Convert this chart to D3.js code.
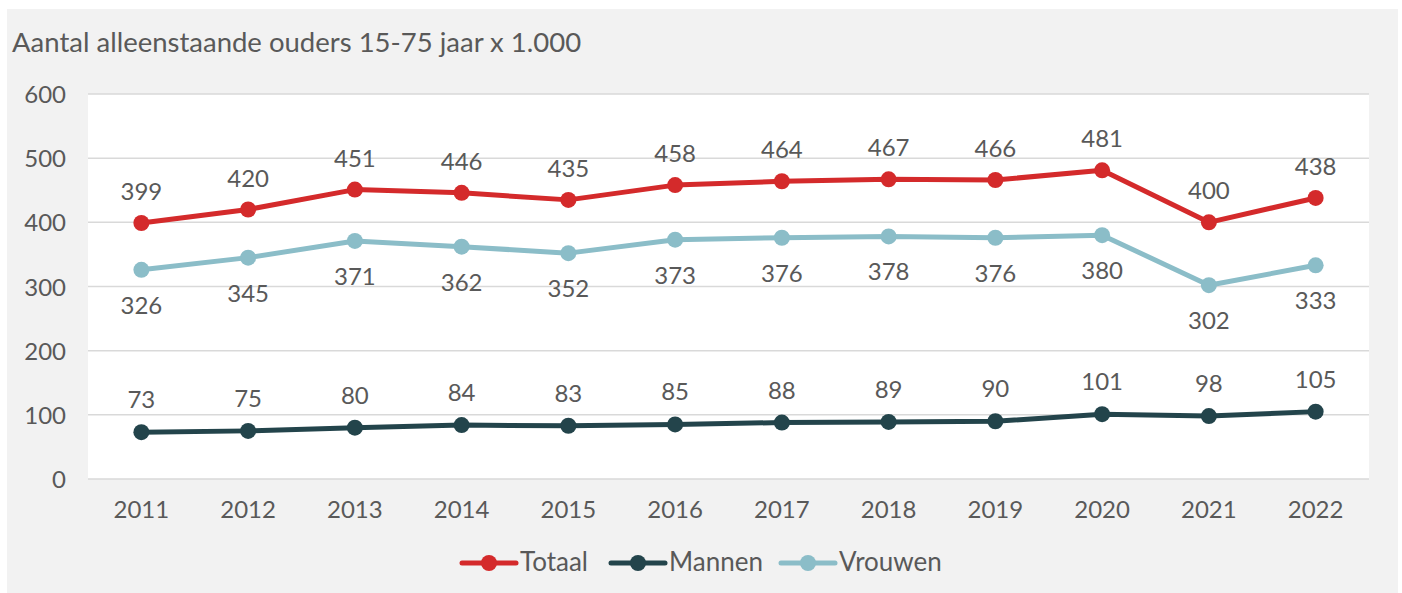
<!DOCTYPE html>
<html>
<meta charset="UTF-8">
<style>
body { margin: 0; background: #fff; }
text { font-family: Lato, "Noto Sans", sans-serif; fill: #595959; }
</style>
<svg width="1402" height="593"></svg>
<script src="https://d3js.org/d3.v7.min.js"></script>
<script>
// data
var years = ["2011", "2012", "2013", "2014", "2015", "2016", "2017", "2018", "2019", "2020", "2021", "2022"];
var totaal = [399, 420, 451, 446, 435, 458, 464, 467, 466, 481, 400, 438];
var mannen = [73, 75, 80, 84, 83, 85, 88, 89, 90, 101, 98, 105];
var vrouwen = [326, 345, 371, 362, 352, 373, 376, 378, 376, 380, 302, 333];
var yTicks = [0, 100, 200, 300, 400, 500, 600];

var series = [
	{ name: "Totaal", values: totaal, color: "#d42a2b", dy: -23 },
	{ name: "Mannen", values: mannen, color: "#23444b", dy: -24 },
	{ name: "Vrouwen", values: vrouwen, color: "#8bbdc8", dy: 44 }
];

var svg = d3.select("svg");

// background panel
svg.append("rect")
	.attr("x", 7).attr("y", 9)
	.attr("width", 1391).attr("height", 584)
	.attr("fill", "#f2f2f2");

var x = d3.scalePoint().domain(years).range([88, 1369]).padding(0.5);
var y = d3.scaleLinear().domain([0, 600]).range([479, 94]);

// plot area
svg.append("rect")
	.attr("x", 88).attr("y", y(600))
	.attr("width", 1369 - 88).attr("height", y(0) - y(600))
	.attr("fill", "#fff");

// gridlines
svg.append("g").selectAll("line")
	.data(yTicks)
	.enter().append("line")
	.attr("x1", 88).attr("x2", 1369)
	.attr("y1", function(d) { return y(d); })
	.attr("y2", function(d) { return y(d); })
	.attr("stroke", "#d9d9d9")
	.attr("stroke-width", 1.5);

// y axis labels
svg.append("g").selectAll("text")
	.data(yTicks)
	.enter().append("text")
	.attr("x", 66)
	.attr("y", function(d) { return y(d) + 9; })
	.attr("text-anchor", "end")
	.style("font-size", "24px")
	.text(function(d) { return d; });

// x axis labels
svg.append("g").selectAll("text")
	.data(years)
	.enter().append("text")
	.attr("x", function(d) { return x(d); })
	.attr("y", 518)
	.attr("text-anchor", "middle")
	.style("font-size", "24px")
	.text(function(d) { return d; });

// title
svg.append("text")
	.attr("x", 12).attr("y", 52)
	.style("font-size", "27.5px")
	.text("Aantal alleenstaande ouders 15-75 jaar x 1.000");

var line = d3.line()
	.x(function(d, i) { return x(years[i]); })
	.y(function(d) { return y(d); });

series.forEach(function(s) {
	var g = svg.append("g");
	g.append("path")
		.attr("d", line(s.values))
		.attr("fill", "none")
		.attr("stroke", s.color)
		.attr("stroke-width", 5)
		.attr("stroke-linejoin", "round");
	g.selectAll("circle")
		.data(s.values)
		.enter().append("circle")
		.attr("cx", function(d, i) { return x(years[i]); })
		.attr("cy", function(d) { return y(d); })
		.attr("r", 8)
		.attr("fill", s.color);
	g.selectAll("text")
		.data(s.values)
		.enter().append("text")
		.attr("x", function(d, i) { return x(years[i]); })
		.attr("y", function(d) { return y(d) + s.dy; })
		.attr("text-anchor", "middle")
		.style("font-size", "24px")
		.text(function(d) { return d; });
});

// legend
var legendX = [462, 611, 781];
var legend = svg.append("g").selectAll("g")
	.data(series)
	.enter().append("g")
	.attr("transform", function(d, i) { return "translate(" + legendX[i] + ",563)"; });
legend.append("line")
	.attr("x1", 0).attr("x2", 54)
	.attr("stroke", function(d) { return d.color; })
	.attr("stroke-width", 5)
	.attr("stroke-linecap", "round");
legend.append("circle")
	.attr("cx", 27).attr("r", 8)
	.attr("fill", function(d) { return d.color; });
legend.append("text")
	.attr("x", 58).attr("y", 8)
	.style("font-size", "26px")
	.text(function(d) { return d.name; });
</script>
</html>
